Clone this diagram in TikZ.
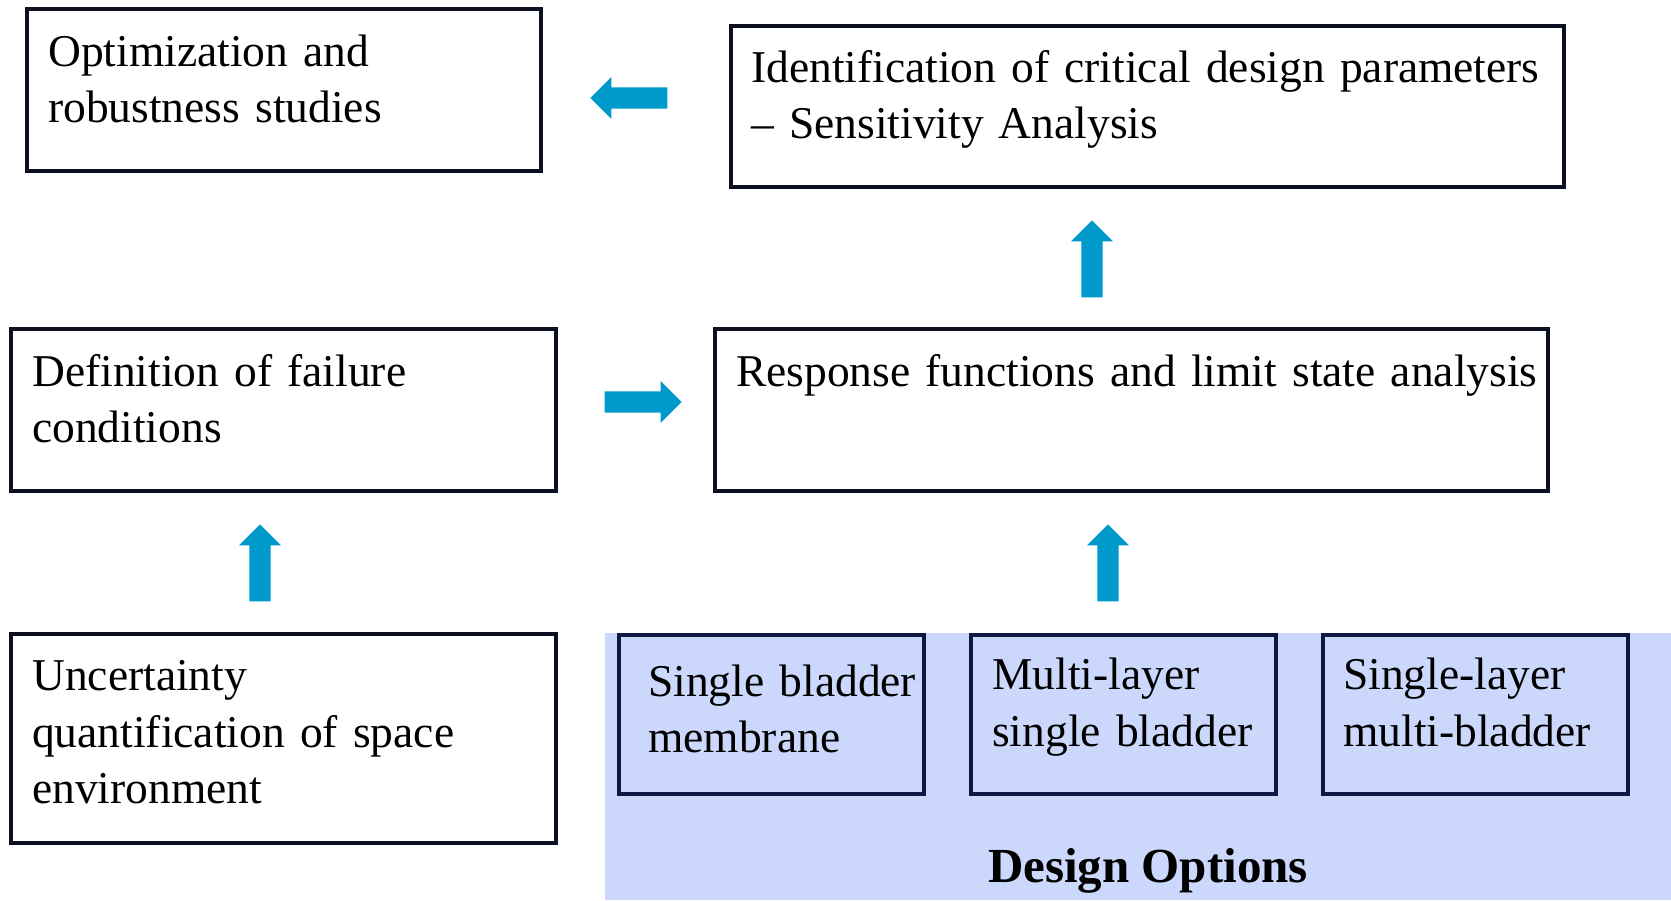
\documentclass[tikz,border=0pt]{standalone}
\usepackage{fontspec}
\setmainfont{Liberation Serif}
\usetikzlibrary{shapes.arrows}
\definecolor{arrowblue}{RGB}{0,153,204}
\definecolor{optfill}{RGB}{203,216,252}
\definecolor{edge}{RGB}{12,16,32}
\definecolor{navy}{RGB}{14,24,68}
\begin{document}
\begin{tikzpicture}[x=1pt,y=-1pt,
  box/.style={draw=edge, line width=4pt, rectangle, inner sep=0pt},
  optbox/.style={box, draw=navy, minimum width=305pt, minimum height=159pt},
  label/.style={anchor=base west, inner sep=0pt, text width=#1, align=left,
    font=\fontsize{45.5}{56.5}\selectfont},
  flow/.style={single arrow, fill=arrowblue, draw=none, inner sep=10.5pt,
    single arrow head extend=10.5pt, single arrow tip angle=90,
    minimum height=77pt, anchor=tip}]
\useasboundingbox (0,0) rectangle (1671,900);

% shaded panel holding the design options
\fill[optfill] (605,633) rectangle (1671,900);

% process boxes
\node[box, minimum width=514pt, minimum height=162pt] (opt) at (283.8,89.5) {};
\node[box, minimum width=833pt, minimum height=161pt] (ident) at (1147.5,106) {};
\node[box, minimum width=545pt, minimum height=162pt] (def) at (283.4,410) {};
\node[box, minimum width=833pt, minimum height=162pt] (resp) at (1131.5,410) {};
\node[box, minimum width=545pt, minimum height=209pt] (unc) at (283.4,738.5) {};

% design option boxes
\node[optbox] (sb) at (771.5,714.5) {};
\node[optbox] (ml) at (1123.5,714.5) {};
\node[optbox] (sl) at (1475.5,714.5) {};

% box texts
\node[label=480pt] (opt-t) at (48,66) {Optimization and\\robustness studies};
\node[label=850pt] (ident-t) at (751,82) {Identification of critical design parameters\\-- Sensitivity Analysis};
\node[label=500pt] (def-t) at (32,386) {Definition of failure\\conditions};
\node[label=850pt] (resp-t) at (736,386) {Response functions and limit state analysis};
\node[label=500pt] (unc-t) at (32,690.6) {Uncertainty\\quantification of space\\environment};
\node[label=320pt] (sb-t) at (648,696) {Single bladder\\membrane};
\node[label=320pt] (ml-t) at (992,689.5) {Multi-layer\\single bladder};
\node[label=320pt] (sl-t) at (1343,689.5) {Single-layer\\multi-bladder};
\node[anchor=base, inner sep=0pt, font=\fontsize{49}{56}\selectfont\bfseries] (design) at (1148,882) {Design Options};

% flow arrows between the boxes (placed by their tips)
\node[flow, shape border rotate=180] (a1) at (590,98) {};
\node[flow, shape border rotate=90] (a2) at (1092,220) {};
\node[flow] (a3) at (682,402) {};
\node[flow, shape border rotate=90] (a4) at (260,524) {};
\node[flow, shape border rotate=90] (a5) at (1108,524) {};
\end{tikzpicture}
\end{document}
